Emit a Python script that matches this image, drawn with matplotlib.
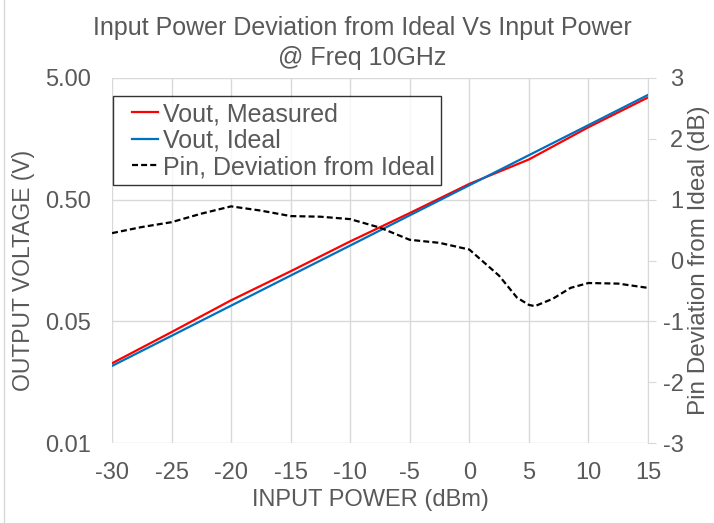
import numpy as np
import matplotlib
matplotlib.use("Agg")
import matplotlib.pyplot as plt
from matplotlib.legend_handler import HandlerLine2D
from matplotlib.lines import Line2D

plt.rcParams['font.family'] = ['Liberation Sans', 'DejaVu Sans']
plt.rcParams['axes.unicode_minus'] = False

# data
pin_dbm = [-30, -25, -20, -15, -10, -5, 0, 5, 10, 15]
vout_measured = [0.0226, 0.0408, 0.0745, 0.129, 0.227, 0.388, 0.674, 1.07, 1.97, 3.46]
vout_ideal = [0.0215, 0.0380, 0.0673, 0.119, 0.210, 0.372, 0.657, 1.16, 2.05, 3.63]

dev_pin = [-30, -27.5, -25, -22.5, -20, -17.5, -15, -12.5, -10, -7.5, -5, -2.5,
           0, 2.5, 4, 5, 5.5, 7, 8.5, 10, 12.5, 15]
dev_db = [0.45, 0.55, 0.63, 0.77, 0.89, 0.82, 0.73, 0.72, 0.68, 0.54, 0.34, 0.29,
          0.18, -0.25, -0.61, -0.73, -0.75, -0.63, -0.45, -0.37, -0.38, -0.45]

left_ticks = [0.005, 0.05, 0.5, 5]
left_labels = ['0.01', '0.05', '0.50', '5.00']
x_ticks = [-30, -25, -20, -15, -10, -5, 0, 5, 10, 15]
right_ticks = [-3, -2, -1, 0, 1, 2, 3]

txt = '#595959'
grid = '#d9d9d9'


class OffsetHandler(HandlerLine2D):
    # leaves a gap on the left of the legend line
    def get_xdata(self, legend, xdescent, ydescent, width, height, fontsize):
        xd = np.array([-xdescent + width * 0.33, -xdescent + width])
        return xd, xd


fig = plt.figure(figsize=(7.14, 5.23), dpi=100)
ax = fig.add_axes([112/714, 1 - 443/523, 536/714, 365/523])

l1, = ax.plot(pin_dbm, vout_measured, color='#ff0000', lw=1.6, label='Vout, Measured')
l2, = ax.plot(pin_dbm, vout_ideal, color='#0070c0', lw=1.6, label='Vout, Ideal')
ax.set_yscale('log')
ax.set_ylim(0.005, 5)
ax.set_xlim(-30, 15)
ax.set_yticks(left_ticks)
ax.set_yticklabels(left_labels)
ax.minorticks_off()
ax.set_xticks(x_ticks)
ax.grid(True, color=grid, lw=1)
ax.set_axisbelow(True)
for s in ax.spines.values():
    s.set_visible(False)
ax.tick_params(axis='both', length=0, labelsize=17, colors=txt)
ax.tick_params(axis='y', pad=15)
ax.tick_params(axis='x', pad=14)
ax.set_xlabel('INPUT POWER (dBm)', fontsize=17, color=txt)
ax.xaxis.set_label_coords(0.483, -0.125)
ax.set_ylabel('OUTPUT VOLTAGE (V)', fontsize=16.5, color=txt)
ax.yaxis.set_label_coords(-0.143, 0.474)

ax2 = ax.twinx()
l3, = ax2.plot(dev_pin, dev_db, color='black', lw=1.6, ls=(0, (2.7, 1.4)),
               label='Pin, Deviation from Ideal')
ax2.set_ylim(-3, 3)
ax2.set_yticks(right_ticks)
for name, s in ax2.spines.items():
    s.set_visible(name == 'right')
ax2.spines['right'].set_color(grid)
ax2.tick_params(axis='y', length=6, labelsize=17, labelcolor=txt, color=grid, pad=19.5)
for lab in ax2.get_yticklabels():
    lab.set_horizontalalignment('right')
ax2.set_ylabel('Pin Deviation from Ideal (dB)', fontsize=17.5, color=txt, labelpad=3)

leg = ax.legend(handles=[l1, l2, l3], loc='upper left', bbox_to_anchor=(0.002, 0.951),
                fontsize=18, frameon=True, fancybox=False, handlelength=1.56,
                handletextpad=0.2, borderpad=0.25, labelspacing=0.1, borderaxespad=0,
                handler_map={Line2D: OffsetHandler()})
leg.get_frame().set_edgecolor('black')
leg.get_frame().set_linewidth(1)
for t in leg.get_texts():
    t.set_color(txt)
leg.set_zorder(5)

fig.text(362/714, 1 - 28/523, 'Input Power Deviation from Ideal Vs Input Power',
         ha='center', va='center', fontsize=18, color=txt)
fig.text(362/714, 1 - 58/523, '@ Freq 10GHz', ha='center', va='center',
         fontsize=18, color=txt)

# thin chart border visible on the left edge
fig.add_artist(Line2D([4/714, 4/714], [0, 1], transform=fig.transFigure,
                      color=grid, lw=1))

fig.savefig('out.png', dpi=100)
